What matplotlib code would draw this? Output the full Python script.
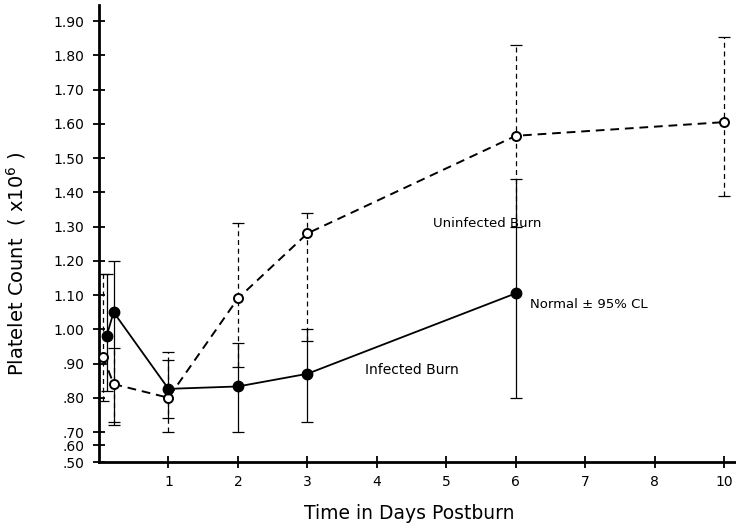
import numpy as np
import matplotlib
matplotlib.use("Agg")
import matplotlib.pyplot as plt

# Platelet counts (x10^6) over the days after burn injury.
# The last uninfected point (day 10) sits on the axis slot for 9 (broken axis).
infected_days = [0.11, 0.21, 1, 2, 3, 6]
infected_mean = [0.98, 1.05, 0.826, 0.833, 0.87, 1.105]
infected_low = [0.82, 0.73, 0.74, 0.70, 0.73, 0.80]
infected_high = [1.16, 1.20, 0.91, 0.96, 1.00, 1.44]

uninfected_days = [0.06, 0.21, 1, 2, 3, 6, 9]
uninfected_mean = [0.92, 0.84, 0.80, 1.09, 1.28, 1.565, 1.605]
uninfected_low = [0.79, 0.72, 0.70, 0.89, 0.965, 1.30, 1.39]
uninfected_high = [1.16, 0.945, 0.935, 1.31, 1.34, 1.83, 1.855]

x_ticks = [1, 2, 3, 4, 5, 6, 7, 8, 9]
x_labels = ["1", "2", "3", "4", "5", "6", "7", "8", "10"]
y_ticks = [0.5, 0.6, 0.7, 0.8, 0.9, 1.0, 1.1, 1.2, 1.3, 1.4, 1.5, 1.6, 1.7, 1.8, 1.9]
y_labels = [".50", ".60", ".70", ".80", ".90", "1.00", "1.10", "1.20", "1.30",
            "1.40", "1.50", "1.60", "1.70", "1.80", "1.90"]

# the bottom of the count axis is compressed below .70
_raw = [-100.0, 0.5, 0.6, 0.7, 100.0]
_disp = [0.6124 - 100.5 * 0.5, 0.6124, 0.662, 0.7, 100.0]


def _fwd(y):
    return np.interp(y, _raw, _disp)


def _inv(t):
    return np.interp(t, _disp, _raw)


fig = plt.figure(figsize=(7.36, 5.27), dpi=100)
ax = fig.add_axes([99 / 736, 65 / 527, 637 / 736, 457 / 527])
ax.set_yscale("function", functions=(_fwd, _inv))

# error bars first so the markers sit on top
err_i = [np.subtract(infected_mean, infected_low), np.subtract(infected_high, infected_mean)]
eb = ax.errorbar(infected_days, infected_mean, yerr=err_i, fmt="none",
                 ecolor="black", elinewidth=0.9, capsize=4.5, capthick=0.9, zorder=2)

err_u = [np.subtract(uninfected_mean, uninfected_low),
         np.subtract(uninfected_high, uninfected_mean)]
eb2 = ax.errorbar(uninfected_days, uninfected_mean, yerr=err_u, fmt="none",
                  ecolor="black", elinewidth=0.9, capsize=4.5, capthick=0.9, zorder=2)
eb2[2][0].set_linestyle((0, (4, 3)))

ax.plot(infected_days, infected_mean, color="black", lw=1.3, marker="o",
        markersize=7.5, markerfacecolor="black", markeredgecolor="black", zorder=4)
ax.plot(uninfected_days, uninfected_mean, color="black", lw=1.4,
        linestyle=(0, (4.5, 3)), marker="o", markersize=6.5,
        markerfacecolor="white", markeredgecolor="black", markeredgewidth=1.4, zorder=3)

ax.text(5.59, 1.31, "Uninfected Burn", ha="center", va="center", fontsize=9.5)
ax.text(4.5, 0.881, "Infected Burn", ha="center", va="center", fontsize=10)
ax.text(6.2, 1.071, "Normal \u00b1 95% CL", ha="left", va="center", fontsize=9.5)

ax.set_xlim(0, 9.17)
ax.set_ylim(0.5, 1.947)
ax.set_xticks(x_ticks)
ax.set_xticklabels(x_labels)
ax.set_yticks(y_ticks)
ax.set_yticklabels(y_labels)
ax.tick_params(direction="inout", length=9, width=1.3, labelsize=10)
ax.tick_params(axis="x", pad=5)
ax.tick_params(axis="y", pad=6)

for side in ("top", "right"):
    ax.spines[side].set_visible(False)
for side in ("left", "bottom"):
    ax.spines[side].set_linewidth(2.0)

ax.set_ylabel("Platelet Count  ( x10$^6$ )", fontsize=14)
ax.yaxis.set_label_coords(-0.112, 0.433)
ax.set_xlabel("Time in Days Postburn", fontsize=13.5)
ax.xaxis.set_label_coords(0.487, -0.092)

fig.savefig("out.png", dpi=100)
